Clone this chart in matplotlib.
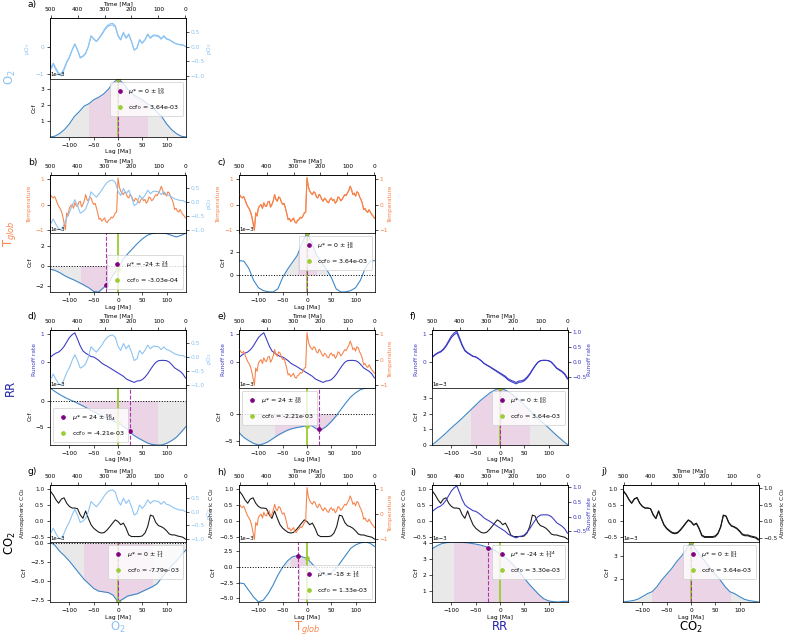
import numpy as np
import matplotlib
matplotlib.use("Agg")
import matplotlib.pyplot as plt
from matplotlib.patches import Rectangle

plt.rcParams["font.family"] = ["DejaVu Sans"]
plt.rcParams["font.size"] = 7
plt.rcParams["axes.linewidth"] = 0.9

# time axes (Ma) and lag axis
time10 = np.arange(500, -1, -10)
time5 = np.arange(500, -1, -5)
lags = np.arange(-140, 141, 10)

# normalised proxy records
o2 = [-0.79, -0.60, -0.79, -0.95, -1.0, -0.79, -0.55, -0.37, -0.12, 0.09,
      -0.12, -0.39, -0.34, -0.24, 0.0, 0.37, 0.27, 0.18, 0.30, 0.43,
      0.59, 0.71, 0.77, 0.79, 0.71, 0.39, 0.24, 0.49, 0.30, 0.43,
      0.18, -0.12, -0.06, 0.24, 0.12, 0.24, 0.43, 0.30, 0.39, 0.39,
      0.37, 0.27, 0.37, 0.27, 0.24, 0.18, 0.12, 0.09, 0.06, 0.06, 0.0]
temperature = [0.39, 0.30, 0.26, 0.32, 0.20, 0.05, -0.07, -0.15, -0.26, -0.45,
               -0.72, -1.00, -0.33, -0.45, -0.13, -0.05, 0.00, -0.15, 0.07, -0.05,
               -0.07, 0.10, 0.13, -0.10, 0.00, 0.15, 0.39, 0.20, 0.13, 0.30,
               0.26, 0.10, 0.00, 0.05, -0.13, -0.35, -0.59, -0.55, -0.66, -0.60,
               -0.53, -0.68, -0.72, -0.62, -0.59, -0.50, -0.53, -0.45, -0.33, -0.30,
               1.05, 0.70, 0.53, 0.45, 0.39, 0.50, 0.46, 0.30, 0.26, 0.40,
               0.33, 0.20, 0.13, 0.25, 0.20, 0.10, 0.07, 0.20, 0.26, 0.15,
               0.20, 0.05, 0.13, 0.30, 0.26, 0.15, 0.20, 0.30, 0.39, 0.35,
               0.46, 0.55, 0.72, 0.59, 0.39, 0.45, 0.33, 0.50, 0.46, 0.30,
               0.20, 0.05, -0.20, -0.15, -0.26, -0.30, -0.20, -0.30, -0.39, -0.45,
               -0.53]
runoff = [0.18, 0.26, 0.32, 0.36, 0.44, 0.56, 0.72, 0.88, 0.98, 1.05,
          0.82, 0.58, 0.40, 0.32, 0.26, 0.20, 0.18, 0.12, 0.05, -0.04,
          -0.10, -0.15, -0.21, -0.27, -0.33, -0.39, -0.45, -0.51, -0.60, -0.65,
          -0.69, -0.73, -0.68, -0.67, -0.63, -0.54, -0.42, -0.27, -0.13, -0.01,
          0.05, 0.06, 0.06, 0.05, 0.0, -0.10, -0.21, -0.27, -0.33, -0.42, -0.57]
co2 = [0.92, 0.81, 0.66, 0.55, 0.68, 0.72, 0.55, 0.45, 0.40, 0.40,
       0.38, 0.19, 0.08, 0.31, 0.08, -0.12, -0.23, -0.30, -0.36, -0.38,
       -0.36, -0.28, -0.18, -0.07, 0.03, -0.02, -0.12, -0.07, -0.23, -0.44,
       -0.49, -0.49, -0.49, -0.49, -0.47, -0.38, -0.18, 0.18, 0.15, -0.05,
       -0.15, -0.18, -0.23, -0.31, -0.41, -0.44, -0.44, -0.47, -0.49, -0.51, -0.57]

# cross-correlation functions (x 1e-3), lags -140..140
ccf_a = [0.03, 0.08, 0.25, 0.5, 0.85, 1.3, 1.6, 1.95, 2.1, 2.35, 2.5, 2.7, 3.0, 3.4, 3.64,
         3.4, 3.0, 2.7, 2.5, 2.35, 2.1, 1.95, 1.6, 1.3, 0.85, 0.5, 0.25, 0.08, 0.03]
ccf_b = [-0.35, -0.46, -0.7, -1.0, -1.24, -1.45, -1.7, -1.95, -2.23, -2.6, -2.65, -2.23, -1.77, -0.92,
         -0.303, 0.6, 1.2, 1.72, 2.25, 2.7, 3.06, 3.24, 3.3, 3.3, 3.24, 3.06, 2.9, 3.06, 3.3]
ccf_c = [1.25, 1.2, 0.6, -0.45, -1.1, -1.35, -1.45, -1.47, -1.2, -0.2, 0.5, 1.1, 1.7, 2.8, 3.64,
         2.8, 1.7, 1.1, 0.5, -0.2, -1.2, -1.47, -1.45, -1.35, -1.1, -0.45, 0.6, 1.2, 1.25]
ccf_d = [2.4, 1.75, 1.17, 0.65, 0.2, -0.2, -0.65, -1.1, -1.6, -2.1, -2.6, -3.05, -3.45, -3.85,
         -4.21, -4.8, -5.45, -6.4, -7.0, -7.5, -8.0, -8.3, -8.4, -8.4, -8.1, -7.6, -6.95, -5.97, -4.9]
ccf_e = [-3.5, -4.4, -5.0, -5.5, -5.8, -5.6, -5.2, -4.6, -4.0, -3.5, -3.05, -2.75, -2.55, -2.4,
         -2.21, -2.25, -2.85, -2.95, -2.35, -1.46, -0.43, 0.8, 2.0, 3.1, 3.85, 4.45, 4.7, 4.75, 4.72]
ccf_f = [0.0, 0.25, 0.52, 0.8, 1.1, 1.37, 1.65, 1.95, 2.25, 2.55, 2.85, 3.1, 3.35, 3.52, 3.64,
         3.52, 3.35, 3.1, 2.85, 2.55, 2.25, 1.95, 1.65, 1.37, 1.1, 0.8, 0.52, 0.25, 0.0]
ccf_g = [0.13, -0.3, -1.1, -1.7, -2.4, -3.2, -4.0, -4.8, -5.4, -6.0, -6.35, -6.45, -6.55, -6.9,
         -7.79, -7.4, -7.0, -6.85, -6.7, -6.4, -6.1, -5.8, -5.4, -4.6, -3.8, -3.0, -2.4, -1.6, -0.9]
ccf_h = [-2.57, -2.67, -3.74, -4.8, -5.6, -5.3, -4.28, -2.94, -1.34, -0.05, 0.96, 1.6, 1.78, 1.6,
         1.33, 0.53, -0.27, -0.96, -1.34, -0.96, -0.27, 0.8, 1.87, 2.94, 3.48, 3.8, 3.95, 3.74, 3.2]
ccf_i = [3.62, 3.8, 3.94, 4.0, 4.04, 4.04, 4.02, 4.0, 3.96, 3.91, 3.85, 3.76, 3.64, 3.51,
         3.30, 3.1, 2.87, 2.54, 2.18, 1.81, 1.43, 1.11, 0.79, 0.53, 0.4, 0.35, 0.33, 0.37, 0.37]
ccf_j = [0.96, 0.99, 1.02, 1.08, 1.2, 1.33, 1.42, 1.65, 1.95, 2.2, 2.45, 2.75, 3.0, 3.3, 3.64,
         3.3, 3.0, 2.75, 2.45, 2.2, 1.95, 1.65, 1.42, 1.33, 1.2, 1.08, 1.02, 0.99, 0.96]

# best lag and its asymmetric error (upper, lower)
mu_best = {"a": 0, "b": -24, "c": 0, "d": 24, "e": 24, "f": 0, "g": 0, "h": -18, "i": -24, "j": 0}
err_up = {"a": 59, "b": 24, "c": 18, "d": 56, "e": 38, "f": 60, "g": 71, "h": 14, "i": 134, "j": 81}
err_lo = {"a": 59, "b": 52, "c": 18, "d": 104, "e": 90, "f": 60, "g": 71, "h": 15, "i": 71, "j": 81}

# ccf tick values (x 1e-3) shown on each panel
ccf_ticks = {"a": [1, 2, 3], "b": [-2, 0, 2], "c": [0, 2], "d": [-5, 0], "e": [-5, 0],
             "f": [0, 1, 2, 3], "g": [-7.5, -5.0, -2.5, 0.0], "h": [-5.0, -2.5, 0.0, 2.5],
             "i": [1, 2, 3, 4], "j": [2, 3]}

o2_col = "#8cc3f2"
temp_col = "#f5844c"
rr_col = "#3c3cc4"
co2_col = "#1a1a1a"
gray_fill = "#e9e9e9"
pink_fill = "#ead4e6"

series = {
    "O2": dict(t=time10, v=o2, c=o2_col, lab="pO$_2$", lt=[-1, 0], lylim=(-1.18, 1.04),
               rt=[-1.0, -0.5, 0.0, 0.5], rylim=(-1.1, 0.97)),
    "T": dict(t=time5, v=temperature, c=temp_col, lab="Temperature", lt=[-1, 0, 1], lylim=(-1.13, 1.17),
              rt=[-1, 0, 1], rylim=(-1.1, 1.15)),
    "RR": dict(t=time10, v=runoff, c=rr_col, lab="Runoff rate", lt=[0, 1], lylim=(-0.93, 1.15),
               rt=[-0.5, 0.0, 0.5, 1.0], rylim=(-0.87, 1.08)),
    "CO2": dict(t=time10, v=co2, c=co2_col, lab="Atmospheric CO$_2$", lt=[-0.5, 0.0, 0.5, 1.0],
                lylim=(-0.66, 1.12), rt=[-0.5, 0.0, 0.5, 1.0], rylim=(-0.63, 1.1)),
}
names = ["O2", "T", "RR", "CO2"]

panels = [
    (0, 0, "a", ccf_a, "upper right"),
    (1, 0, "b", ccf_b, "lower right"),
    (1, 1, "c", ccf_c, "upper right"),
    (2, 0, "d", ccf_d, "lower left"),
    (2, 1, "e", ccf_e, "upper left"),
    (2, 2, "f", ccf_f, "upper right"),
    (3, 0, "g", ccf_g, "upper right"),
    (3, 1, "h", ccf_h, "lower right"),
    (3, 2, "i", ccf_i, "upper right"),
    (3, 3, "j", ccf_j, "upper right"),
]

W, H = 787, 637
DPI = 60
col_left = [50, 239, 432, 623]
AW = 136
row_top = [18, 175, 330, 485]
row_mid = [79, 233, 388, 542]
row_bot = [137, 292, 445, 602]


def px(l, t, w, h):
    return [l / W, 1 - (t + h) / H, w / W, h / H]


fig = plt.figure(figsize=(W / DPI, H / DPI), dpi=DPI)

for row, col, letter, ccf, loc in panels:
    left = col_left[col]
    rv = series[names[row]]
    cv = series[names[col]]

    # top: the two time series
    ax_t = fig.add_axes(px(left, row_top[row], AW, row_mid[row] - row_top[row]))
    ax_t.plot(rv["t"], rv["v"], color=rv["c"], lw=1.3)
    ax_t.set_ylim(*rv["lylim"])
    ax_t.set_yticks(rv["lt"])
    ax_t.tick_params(axis="y", labelcolor=rv["c"])
    ax_t.set_ylabel(rv["lab"], color=rv["c"])
    ax_t.set_xlim(502, -2)
    ax_t.set_xticks([500, 400, 300, 200, 100, 0])
    ax_t.xaxis.tick_top()
    ax_t.xaxis.set_label_position("top")
    ax_t.set_xlabel("Time [Ma]", labelpad=2)

    ax_r = ax_t.twinx()
    ax_r.plot(cv["t"], cv["v"], color=cv["c"], lw=1.3)
    ax_r.set_ylim(*cv["rylim"])
    ax_r.set_yticks(cv["rt"])
    ax_r.tick_params(axis="y", labelcolor=cv["c"], pad=2)
    ax_r.set_ylabel(cv["lab"], color=cv["c"], labelpad=0.5)

    # bottom: cross-correlation
    ax_b = fig.add_axes(px(left, row_mid[row], AW, row_bot[row] - row_mid[row]))
    y = np.array(ccf) * 1e-3
    mu = mu_best[letter]
    up, lo = err_up[letter], err_lo[letter]
    y_mu = np.interp(mu, lags, y)
    y0 = y[lags == 0][0]

    sign = np.sign(y_mu)
    region = np.zeros(len(lags), dtype=bool)
    i0 = int(np.argmin(np.abs(lags - mu)))
    i = i0
    while i >= 0 and np.sign(y[i]) == sign:
        region[i] = True
        i -= 1
    i = i0 + 1
    while i < len(lags) and np.sign(y[i]) == sign:
        region[i] = True
        i += 1

    ymin, ymax = y.min(), y.max()
    gr = ax_b.fill_between(lags, y, 0, where=region, interpolate=True, color=gray_fill, lw=0)
    gr.set_clip_path(Rectangle((lags[0], ymin), lags[-1] - lags[0], ymax - ymin,
                               transform=ax_b.transData))
    pk = ax_b.fill_between(lags, y, 0, where=region, interpolate=True, color=pink_fill, lw=0)
    pk.set_clip_path(Rectangle((mu - lo, ymin), up + lo, ymax - ymin, transform=ax_b.transData))

    ax_b.plot(lags, y, color="#3a86c8", lw=1.3)
    ax_b.axhline(0, color="k", ls=":", lw=1.2)
    ax_b.axvline(0, color="yellowgreen", lw=2.2)
    ax_b.axvline(mu, color="#b030b0", ls="--", lw=1.3)
    ax_b.plot(mu, y_mu, "o", color="purple", ms=4.5,
              label=r"$\mu$* = %d $\pm$ $^{%d}_{%d}$" % (mu, up, lo))
    ax_b.plot(0, y0, "o", color="yellowgreen", ms=4.5, label="ccf$_0$ = %.2e" % y0)
    ax_b.set_xlim(lags[0], lags[-1])
    ax_b.set_ylim(ymin, ymax)
    ax_b.set_xticks([-100, -50, 0, 50, 100])
    ax_b.set_yticks(np.array(ccf_ticks[letter]) * 1e-3)
    ax_b.ticklabel_format(axis="y", style="sci", scilimits=(0, 0))
    ax_b.yaxis.get_offset_text().set_fontsize(6.5)
    ax_b.set_xlabel("Lag [Ma]", labelpad=2)
    ax_b.set_ylabel("Ccf")
    ax_b.legend(loc=loc, fontsize=7.5, handletextpad=0.4, borderpad=0.6, labelspacing=1.0)

    fig.text((left - 22) / W, 1 - (row_top[row] - 13) / H, letter + ")",
             fontsize=11, va="center", ha="left")

# row and column titles
row_titles = ["O$_2$", "T$_{glob}$", "RR", "CO$_2$"]
row_colors = [o2_col, temp_col, "#2222aa", "black"]
for k in range(4):
    yc = (row_top[k] + row_bot[k]) / 2
    fig.text(10 / W, 1 - yc / H, row_titles[k], color=row_colors[k], fontsize=14,
             rotation=90, va="center", ha="center")
    fig.text((col_left[k] + AW / 2) / W, 1 - 627 / H, row_titles[k], color=row_colors[k],
             fontsize=14, va="center", ha="center")

fig.savefig("out.png", dpi=DPI)
